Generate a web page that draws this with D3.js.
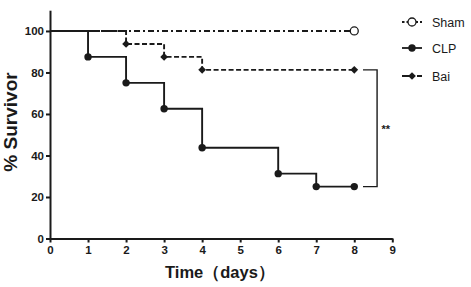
<!DOCTYPE html>
<html lang="en">
<head>
<meta charset="utf-8">
<title>Survival curve</title>
<script src="https://cdn.jsdelivr.net/npm/d3@7"></script>
<style>
  body { margin: 0; background: #fff; }
  svg { display: block; font-family: "Liberation Sans", Arial, sans-serif; }
  .axis path, .axis line { stroke: #1a1a1a; stroke-width: 2; }
  .axis text { font-size: 11.5px; font-weight: bold; fill: #1a1a1a; }
</style>
</head>
<body>
<div id="vis"></div>
<script>
var w = 471, h = 287;

// survival data (% alive) at each event day
var shamDays = [0, 8];
var shamSurv = [100, 100];
var clpDays = [0, 1, 2, 3, 4, 6, 7, 8];
var clpSurv = [100, 87.5, 75, 62.5, 43.75, 31.25, 25, 25];
var baiDays = [0, 2, 3, 4, 8];
var baiSurv = [100, 93.75, 87.5, 81.25, 81.25];

var xTicks = [0, 1, 2, 3, 4, 5, 6, 7, 8, 9];
var yTicks = [0, 20, 40, 60, 80, 100];
var seriesNames = ["Sham", "CLP", "Bai"];

var xScale = d3.scaleLinear().domain([0, 9]).range([50, 392.3]);
var yScale = d3.scaleLinear().domain([0, 110]).range([238.5, 10.2]);

var svg = d3.select("#vis").append("svg")
  .attr("width", w).attr("height", h);

function zip(days, surv) {
  return days.map(function(d, i) { return { t: d, s: surv[i] }; });
}
var sham = zip(shamDays, shamSurv);
var clp = zip(clpDays, clpSurv);
var bai = zip(baiDays, baiSurv);

var step = d3.line()
  .x(function(d) { return xScale(d.t); })
  .y(function(d) { return yScale(d.s); })
  .curve(d3.curveStepAfter);

//Axes
svg.append("g")
  .attr("class", "axis")
  .attr("transform", "translate(0," + yScale(0) + ")")
  .call(d3.axisBottom(xScale).tickValues(xTicks).tickSize(4).tickSizeOuter(0).tickPadding(3));

svg.append("g")
  .attr("class", "axis")
  .attr("transform", "translate(" + xScale(0) + ",0)")
  .call(d3.axisLeft(yScale).tickValues(yTicks).tickSize(4).tickSizeOuter(0).tickPadding(2));

//Curves
var ink = "#1a1a1a";
svg.append("path").datum(bai).attr("d", step)
  .attr("fill", "none").attr("stroke", ink).attr("stroke-width", 1.9)
  .attr("stroke-dasharray", "5,2.5");
svg.append("path").datum(sham).attr("d", step)
  .attr("fill", "none").attr("stroke", ink).attr("stroke-width", 1.9)
  .attr("stroke-dasharray", "6,3,2,3");
svg.append("path").datum(clp).attr("d", step)
  .attr("fill", "none").attr("stroke", ink).attr("stroke-width", 1.9);

//Markers
var diamond = d3.symbol().type(d3.symbolSquare).size(30);
svg.selectAll(".clpDot").data(clp.slice(1)).enter().append("circle")
  .attr("cx", function(d) { return xScale(d.t); })
  .attr("cy", function(d) { return yScale(d.s); })
  .attr("r", 3.7).attr("fill", ink);
svg.selectAll(".baiDot").data(bai.slice(1)).enter().append("path")
  .attr("d", diamond)
  .attr("transform", function(d) { return "translate(" + xScale(d.t) + "," + yScale(d.s) + ") rotate(45)"; })
  .attr("fill", ink);
svg.append("circle")
  .attr("cx", xScale(sham[1].t)).attr("cy", yScale(sham[1].s))
  .attr("r", 4).attr("fill", "#fff").attr("stroke", ink).attr("stroke-width", 1.3);

//Significance bracket between Bai and CLP at day 8
var bx0 = xScale(8.23), bx1 = xScale(8.6);
var yTop = yScale(baiSurv[baiSurv.length - 1]), yBot = yScale(clpSurv[clpSurv.length - 1]);
svg.append("path")
  .attr("d", "M" + bx0 + "," + yTop + "H" + bx1 + "V" + yBot + "H" + bx0)
  .attr("fill", "none").attr("stroke", ink).attr("stroke-width", 1.4);
svg.append("text")
  .attr("x", xScale(8.83)).attr("y", (yTop + yBot) / 2 + 5)
  .attr("text-anchor", "middle").attr("font-size", "11px").attr("font-weight", "bold")
  .attr("fill", ink).text("**");

//Axis titles
svg.append("text")
  .attr("x", 220).attr("y", 278)
  .attr("text-anchor", "middle").attr("font-size", "16.5px").attr("font-weight", "bold")
  .attr("fill", ink).text("Time（days）");
svg.append("text")
  .attr("transform", "translate(17,122) rotate(-90)")
  .attr("text-anchor", "middle").attr("font-size", "19px").attr("font-weight", "bold")
  .attr("fill", ink).text("% Survivor");

//Legend
var legY = [22, 48, 76];
var leg = svg.selectAll(".leg").data(seriesNames).enter().append("g")
  .attr("transform", function(d, i) { return "translate(412," + legY[i] + ")"; });
leg.append("line")
  .attr("x1", -10).attr("x2", 10)
  .attr("stroke", ink).attr("stroke-width", 1.8)
  .attr("stroke-dasharray", function(d, i) { return i === 0 ? "2.5,2" : i === 2 ? "9,2,2,2" : null; });
leg.each(function(d, i) {
  var g = d3.select(this);
  if (i === 0) g.append("circle").attr("r", 4).attr("fill", "#fff").attr("stroke", ink).attr("stroke-width", 1.3);
  if (i === 1) g.append("circle").attr("r", 3.7).attr("fill", ink);
  if (i === 2) g.append("path").attr("d", diamond).attr("transform", "rotate(45)").attr("fill", ink);
});
leg.append("text")
  .attr("x", 20).attr("y", 4.5)
  .attr("font-size", "12.5px").attr("fill", ink)
  .text(function(d) { return d; });
</script>
</body>
</html>
